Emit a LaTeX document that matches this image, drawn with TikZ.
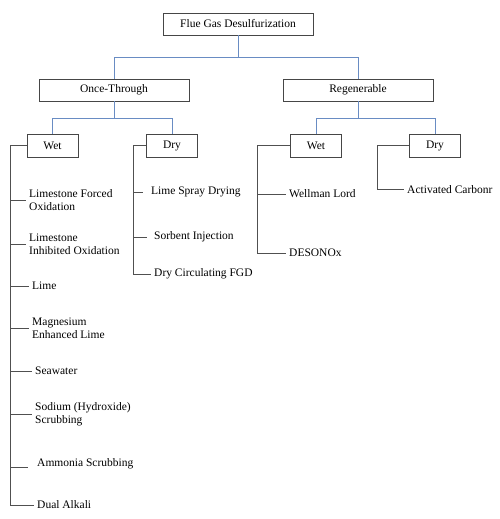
\documentclass[tikz,border=0pt]{standalone}
\usepackage{fontspec}
\setmainfont{Liberation Serif}
\definecolor{treeblue}{RGB}{105,140,195}
\definecolor{boxgray}{RGB}{70,70,70}
\definecolor{brgray}{RGB}{80,80,80}
\begin{document}
\begin{tikzpicture}[x=1pt,y=-1pt,
  every node/.style={font=\fontsize{11.5}{13}\selectfont},
  bigbox/.style={draw=boxgray,line width=0.8pt,minimum width=150pt,minimum height=22pt,inner sep=0pt},
  smallbox/.style={draw=boxgray,line width=0.8pt,minimum width=51pt,minimum height=23pt,inner sep=0pt},
  item/.style={anchor=west,align=left,inner xsep=3pt,inner ysep=1pt},
  tree/.style={draw=treeblue,line width=0.9pt},
  bracket/.style={draw=brgray,line width=0.8pt}]
\useasboundingbox (0,0) rectangle (500,519);
\node[bigbox] (fgd) at (238,24) {Flue Gas Desulfurization};
\node[bigbox] (once) at (114,90) {Once-Through};
\node[bigbox] (regen) at (358,90) {Regenerable};
\node[smallbox] (wetL) at (52.5,145.5) {Wet};
\node[smallbox] (dryL) at (172,145.5) {Dry};
\node[smallbox] (wetR) at (316,145.5) {Wet};
\node[smallbox] (dryR) at (435,145.5) {Dry};
% tree connectors
\draw[tree] (fgd.south) -- ++(0,22) -| (once.north);
\draw[tree] (fgd.south) -- ++(0,22) -| (regen.north);
\draw[tree] (once.south) -- ++(0,17) -| (wetL.north);
\draw[tree] (once.south) -- ++(0,17) -| (dryL.north);
\draw[tree] (regen.south) -- ++(0,17) -| (wetR.north);
\draw[tree] (regen.south) -- ++(0,17) -| (dryR.north);
% left wet items
\node[item] (lfo) at (26,200.5) {Limestone Forced\\Oxidation};
\node[item] (lio) at (26,244.5) {Limestone\\Inhibited Oxidation};
\node[item] (lime) at (29,286) {Lime};
\node[item] (mel) at (29,328.5) {Magnesium\\Enhanced Lime};
\node[item] (sea) at (32,371) {Seawater};
\node[item] (sod) at (32,414.5) {Sodium (Hydroxide)\\Scrubbing};
\node[item] (amm) at (34,464) {Ammonia Scrubbing};
\node[item] (dual) at (34,505) {Dual Alkali};
\coordinate (tL) at (10,145.5);
\draw[bracket] (wetL.west) -- (tL) |- (dual.west);
\draw[bracket] (tL |- lfo.west) -- (lfo.west);
\draw[bracket] (tL |- lio.west) -- (lio.west);
\draw[bracket] (tL |- lime.west) -- (lime.west);
\draw[bracket] (tL |- mel.west) -- (mel.west);
\draw[bracket] (tL |- sea.west) -- (sea.west);
\draw[bracket] (tL |- sod.west) -- (sod.west);
\draw[bracket] (tL |- 0,467) -- (28,467);
% left dry items
\node[item] (lsd) at (148,192) {Lime Spray Drying};
\node[item] (sorb) at (151,237) {Sorbent Injection};
\node[item] (dcf) at (151,274) {Dry Circulating FGD};
\coordinate (tD) at (133,145.5);
\draw[bracket] (dryL.west) -- (tD) |- (dcf.west);
\draw[bracket] (tD |- lsd.west) -- ++(10,0);
\draw[bracket] (tD |- sorb.west) -- ++(14,0);
% right wet items
\node[item] (wl) at (286,194) {Wellman Lord};
\node[item] (des) at (286,253) {DESONOx};
\coordinate (tW) at (257,145.5);
\draw[bracket] (wetR.west) -- (tW) |- (des.west);
\draw[bracket] (tW |- wl.west) -- (wl.west);
% right dry items
\node[item] (ac) at (404,189.5) {Activated Carbonr};
\coordinate (tR) at (377,145.5);
\draw[bracket] (dryR.west) -- (tR) |- (ac.west);
\end{tikzpicture}
\end{document}
